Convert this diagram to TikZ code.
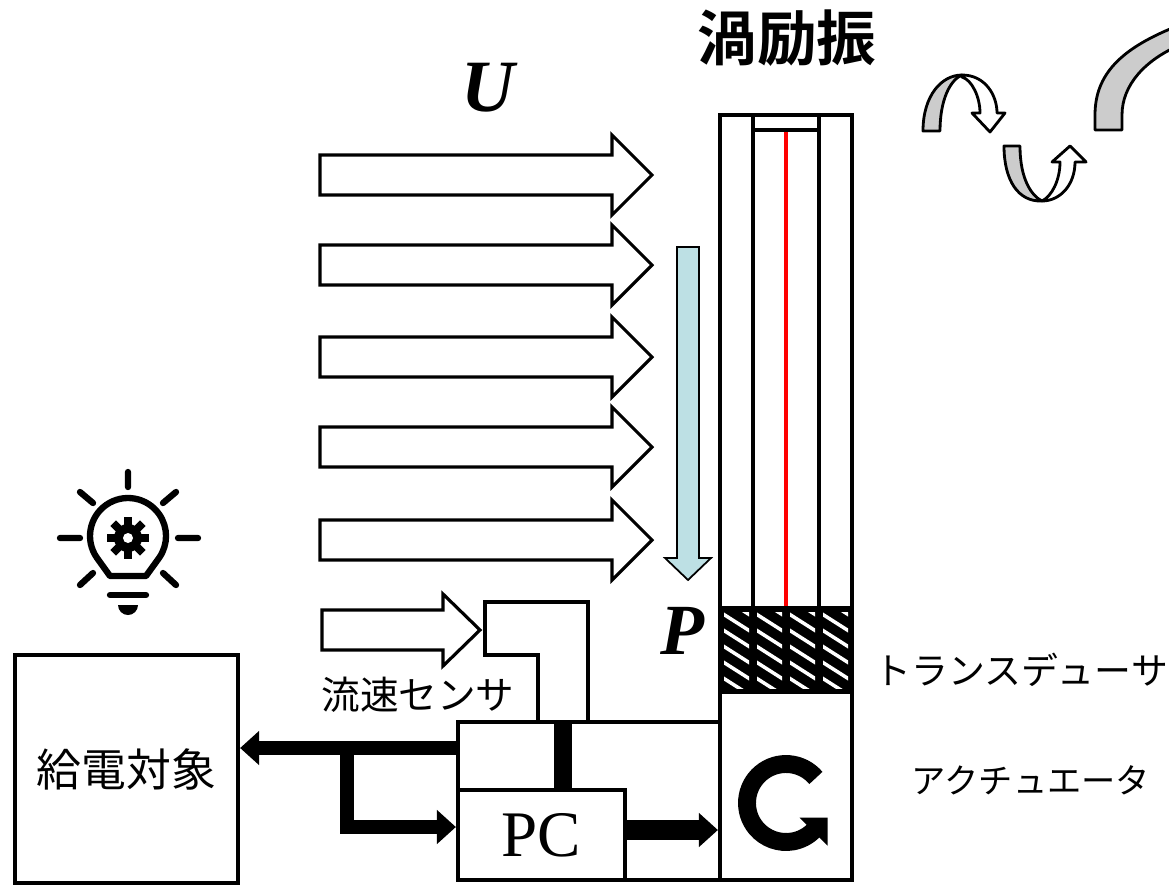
\documentclass[tikz,border=0pt]{standalone}
\usepackage{fontspec}
\setmainfont{Liberation Serif}
\newfontfamily\jp[BoldFont={* Bold}]{Noto Sans CJK JP}
\usetikzlibrary{arrows.meta}
\definecolor{pblue}{RGB}{189,224,228}
\definecolor{twistgray}{RGB}{204,204,204}
\newcommand{\jplabel}{\jp\fontsize{21}{21}\selectfont}
\tikzset{
  box/.style = {draw, line width = 2.4pt, inner sep = 0},
  bus/.style = {line width = 8.5pt, -{Triangle[length = 0.38cm, width = 0.66cm]}},
  wind/.style = {draw, line width = 1.8pt, fill = white},
  twist/.style = {draw, line width = 1.6pt, fill = white, line join = round},
  ray/.style = {line width = 3.6pt, line cap = round}
}

\begin{document}
\begin{tikzpicture}[x = 0.02cm, y = -0.02cm]
  \useasboundingbox (0, 0) rectangle (1169, 889);

  % flow
  \foreach \y in {175, 265, 357, 447, 540}
    \draw [wind] (320, \y-20) -- (612, \y-20) -- (612, \y-40) -- (652, \y)
      -- (612, \y+40) -- (612, \y+20) -- (320, \y+20) -- cycle;
  \draw [wind] (322, 610) -- (443, 610) -- (443, 594) -- (480, 630)
    -- (443, 666) -- (443, 650) -- (322, 650) -- cycle;
  \node [font = \fontsize{42}{42}\selectfont\bfseries\itshape] (u) at (488, 88) {U};
  \draw [line width = 1pt, fill = pblue] (677, 247) -- (699, 247) -- (699, 558)
    -- (711, 558) -- (688, 580) -- (665, 558) -- (677, 558) -- cycle;
  \node [font = \fontsize{41}{41}\selectfont\bfseries\itshape] (p) at (682, 631) {P};

  % tower
  \node [box, minimum width = 2.64cm, minimum height = 9.86cm] (tower) at (786, 361.5) {};
  \draw [red, line width = 2.2pt] (786, 130) -- (786, 608);
  \draw [line width = 2.4pt] (753, 115) -- (753, 608) (819, 115) -- (819, 608)
    (753, 130) -- (819, 130);
  \node [font = \jp\bfseries\fontsize{34}{34}\selectfont] (title) at (787, 38) {渦励振};

  % transducer
  \node [box, fill = black, minimum width = 2.64cm, minimum height = 1.68cm] (trans) at (786, 650) {};
  \foreach \cx in {720, 753, 786, 819} {
    \begin{scope}
      \clip (\cx+4, 612) rectangle (\cx+29, 688);
      \foreach \k in {-4, ..., 6}
        \draw [white, line width = 2pt] (\cx, 596+\k*16) -- ++(33, 21);
    \end{scope}
  }
  \node [font = \jplabel, anchor = west] at (868, 670) {トランスデューサ};

  % actuator
  \node [box, minimum width = 2.64cm, minimum height = 3.76cm] (act) at (786, 786) {};
  \draw [line width = 10.2pt] (786, 803) ++(-40:39) arc [start angle = -40, end angle = -315, radius = 39];
  \fill (799.5, 817.5) -- (827.7, 817.5) -- (827.7, 845.7) -- cycle;
  \node [font = \jp\fontsize{19.5}{19.5}\selectfont] at (1031, 780) {アクチュエータ};

  % sensor and control
  \draw [line width = 2.4pt] (538, 722) -- (538, 655) -- (485, 655) -- (485, 602)
    -- (588, 602) -- (588, 722);
  \coordinate (sens) at (563, 722);
  \node [font = \jp\fontsize{22}{22}\selectfont] at (418, 695) {流速センサ};
  \node [box, minimum width = 5.24cm, minimum height = 3.16cm] (ctrl) at (589, 801) {};
  \node [box, minimum width = 3.34cm, minimum height = 1.8cm,
    font = \fontsize{37}{37}\selectfont] (pc) at (541.5, 835) {PC};
  \node [box, minimum width = 4.46cm, minimum height = 4.56cm,
    font = \jp\fontsize{25.5}{25.5}\selectfont] (load) at (126.5, 769) {給電対象};

  \coordinate (out) at (458, 748);
  \coordinate (split) at (347, 748);
  \draw [bus, -, line width = 10.5pt] (sens) -- (sens |- pc.north);
  \draw [bus] (out) -- (out -| load.east);
  \draw [bus] (split) |- ([yshift = 0.16cm]pc.west);
  \draw [bus, line width = 11pt] ([yshift = 0.1cm]pc.east) -- ([yshift = 0.1cm]pc.east -| act.west);

  % lamp
  \draw [ray, line join = round] (110, 576) -- (96.9, 557.8)
    arc [start angle = 145, end angle = 395, radius = 38] -- (146, 576) -- cycle;
  \draw [ray] (110, 595) -- (146, 595);
  \fill (138, 605) arc [start angle = 0, end angle = 180, radius = 10] -- cycle;
  \draw [ray] (128, 472) -- (128, 487) (60, 538) -- (80, 538) (178, 538) -- (198, 538)
    (80, 492) -- (93, 503) (163, 503) -- (176, 492)
    (80, 585) -- (93, 573) (163, 573) -- (176, 585);
  \foreach \a in {0, 45, ..., 315}
    \fill [rotate around = {\a:(128, 538)}] (124, 517) rectangle (132, 526);
  \fill (128, 538) circle [radius = 14];
  \fill [white] (128, 538) circle [radius = 5];

  % twisting
  \draw [twist, fill = twistgray] (923, 131) .. controls (923, 95) and (942, 75) .. (962, 75)
    .. controls (950, 80) and (940, 100) .. (940, 131) -- cycle;
  \draw [twist] (962, 75) .. controls (985, 75) and (997, 95) .. (997, 113) -- (1005, 113)
    -- (990, 132) -- (972, 113) -- (980, 113) .. controls (980, 97) and (972, 80) .. (962, 77) -- cycle;
  \draw [twist, fill = twistgray] (1004, 146) -- (1020, 146) .. controls (1020, 180) and (1032, 196) .. (1042, 201)
    .. controls (1018, 202) and (1004, 180) .. (1004, 146) -- cycle;
  \draw [twist] (1042, 201) .. controls (1060, 201) and (1075, 185) .. (1075, 162) -- (1086, 162)
    -- (1070, 146) -- (1052, 162) -- (1060, 162) .. controls (1060, 180) and (1052, 196) .. (1042, 201) -- cycle;
  \begin{scope}
    \clip (0, 0) rectangle (1169, 889);
    \draw [twist, fill = twistgray] (1095, 130) -- (1095, 115) .. controls (1095, 75) and (1120, 48) .. (1180, 25)
      -- (1180, 45) .. controls (1145, 60) and (1122, 85) .. (1122, 115) -- (1122, 130) -- cycle;
  \end{scope}
\end{tikzpicture}
\end{document}
